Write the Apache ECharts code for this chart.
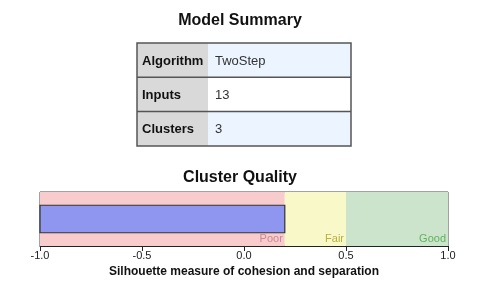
<!DOCTYPE html>
<html><head><meta charset="utf-8">
<script src="https://cdn.jsdelivr.net/npm/echarts@6/dist/echarts.min.js"></script>
<style>html,body{margin:0;padding:0;background:#fff}#c{width:480px;height:288px}</style>
</head><body><div id="c"></div>
<script>
const tableLabels = ['Algorithm', 'Inputs', 'Clusters'];
const tableValues = ['TwoStep', '13', '3'];
const silhouette = [0.2];
const bands = [
  {name: 'Poor', from: -1.0, to: 0.2},
  {name: 'Fair', from: 0.2, to: 0.5},
  {name: 'Good', from: 0.5, to: 1.0}
];
const xTicks = [-1.0, -0.5, 0.0, 0.5, 1.0];

const FONT = 'Liberation Sans, Arial, sans-serif';
const bandColors = ['#f8cccc', '#f8f8c8', '#cce4cc'];
const bandLabelColors = ['#c98a98', '#b8b040', '#5fb35f'];

// table graphic
const T = {x: 137, y: 43, w: 214, rowH: 34.3, labW: 71};
const graphics = [];
tableLabels.forEach((lab, i) => {
  const y = T.y + i * T.rowH;
  graphics.push({type: 'rect', shape: {x: T.x, y: y, width: T.labW, height: T.rowH},
    style: {fill: '#d9d9d9', stroke: null}});
  graphics.push({type: 'rect', shape: {x: T.x + T.labW, y: y, width: T.w - T.labW, height: T.rowH},
    style: {fill: i % 2 === 0 ? '#ebf4ff' : '#ffffff', stroke: null}});
  graphics.push({type: 'text', x: T.x + 5, y: y + T.rowH / 2 + 1,
    style: {text: lab, font: 'bold 13px ' + FONT, fill: '#111', verticalAlign: 'middle'}});
  graphics.push({type: 'text', x: T.x + T.labW + 7, y: y + T.rowH / 2 + 1,
    style: {text: tableValues[i], font: '13px ' + FONT, fill: '#333', verticalAlign: 'middle'}});
  if (i > 0) graphics.push({type: 'line', shape: {x1: T.x, y1: y, x2: T.x + T.w, y2: y},
    style: {stroke: '#555', lineWidth: 1.5}});
});
graphics.push({type: 'rect', shape: {x: T.x, y: T.y, width: T.w, height: T.rowH * tableLabels.length},
  style: {fill: null, stroke: '#555', lineWidth: 1.5}});

const chart = echarts.init(document.getElementById('c'));
chart.setOption({
  animation: false,
  title: [
    {text: 'Model Summary', left: 'center', top: 8, textStyle: {fontFamily: FONT, fontSize: 16, fontWeight: 'bold', color: '#111'}},
    {text: 'Cluster Quality', left: 'center', top: 165, textStyle: {fontFamily: FONT, fontSize: 16, fontWeight: 'bold', color: '#111'}}
  ],
  graphic: graphics,
  grid: {left: 40, right: 32, top: 192, bottom: 42, show: true, borderColor: '#444', borderWidth: 1, backgroundColor: 'transparent'},
  xAxis: {
    type: 'value', min: -1, max: 1, interval: 0.5,
    axisLine: {show: true, lineStyle: {color: '#222'}},
    axisTick: {show: true, length: 5, lineStyle: {color: '#222'}},
    axisLabel: {fontFamily: FONT, fontSize: 11, color: '#222', margin: 4, formatter: v => v.toFixed(1)},
    splitLine: {show: false},
    name: 'Silhouette measure of cohesion and separation', nameLocation: 'middle', nameGap: 20,
    nameTextStyle: {fontFamily: FONT, fontSize: 12, fontWeight: 'bold', color: '#111'}
  },
  yAxis: {type: 'category', data: ['q'], show: false},
  series: [{
    type: 'custom',
    data: silhouette.map((v, i) => [v, i]),
    renderItem: function (params, api) {
      const start = api.coord([-1, api.value(1)]);
      const end = api.coord([api.value(0), api.value(1)]);
      const h = api.size([0, 1])[1] * 0.51;
      return {type: 'rect', shape: {x: start[0], y: start[1] - h / 2, width: end[0] - start[0], height: h},
        style: {fill: '#8f96ef', stroke: '#333', lineWidth: 1.2}};
    },
    markArea: {
      silent: true,
      data: bands.map((b, i) => [
        {xAxis: b.from, itemStyle: {color: bandColors[i]},
          label: {show: true, position: 'insideBottomRight', formatter: b.name, color: bandLabelColors[i],
            fontFamily: FONT, fontSize: 11, distance: 2}},
        {xAxis: b.to}
      ])
    },
    z: 3
  }]
});
</script></body></html>
